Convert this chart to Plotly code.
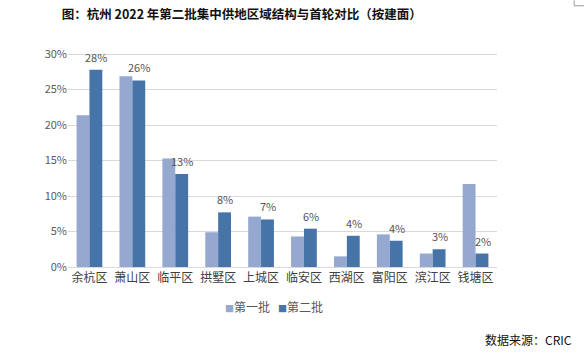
import plotly.graph_objects as go

categories = ["余杭区", "萧山区", "临平区", "拱墅区", "上城区", "临安区", "西湖区", "富阳区", "滨江区", "钱塘区"]
batch1 = [21.4, 26.9, 15.3, 4.9, 7.1, 4.3, 1.5, 4.6, 1.9, 11.7]
batch2 = [27.8, 26.3, 13.1, 7.7, 6.7, 5.4, 4.4, 3.7, 2.5, 1.9]
labels2 = ["28%", "26%", "13%", "8%", "7%", "6%", "4%", "4%", "3%", "2%"]
series_names = ["第一批", "第二批"]
y_ticks = [0, 5, 10, 15, 20, 25, 30]
y_tick_text = ["0%", "5%", "10%", "15%", "20%", "25%", "30%"]

font_family = "Noto Sans CJK SC, Noto Sans, sans-serif"
c1 = "#95A9D0"
c2 = "#4674A8"

fig = go.Figure()
fig.add_trace(go.Bar(
    x=categories, y=batch1, name=series_names[0], showlegend=False,
    marker=dict(color=c1, line=dict(width=0)),
))
fig.add_trace(go.Bar(
    x=categories, y=batch2, name=series_names[1], showlegend=False,
    marker=dict(color=c2, line=dict(width=0)),
))

annotations = []
for cat, val, lab in zip(categories, batch2, labels2):
    annotations.append(dict(
        x=cat, y=val, xref="x", yref="y", text=lab, showarrow=False,
        xshift=7, yshift=13, xanchor="center", yanchor="middle",
        font=dict(size=11, color="#555555", family=font_family),
    ))
# legend-like line
legend_text = (
    f"<span style='color:{c1};font-size:9px'>■</span>{series_names[0]}"
    f"&nbsp;&nbsp;&nbsp;"
    f"<span style='color:{c2};font-size:9px'>■</span>{series_names[1]}"
)
annotations.append(dict(
    text=legend_text, xref="paper", yref="paper",
    x=0.48, xanchor="center", y=-0.186, yanchor="middle",
    showarrow=False, font=dict(size=12, color="#595959", family=font_family),
))
annotations.append(dict(
    text="数据来源：CRIC", xref="paper", yref="paper",
    x=1.18, xanchor="right", y=-0.335, yanchor="middle",
    showarrow=False, font=dict(size=12, color="#111111", family=font_family),
))

fig.update_layout(
    width=584, height=356,
    margin=dict(l=68, r=87, t=52, b=89, autoexpand=False),
    paper_bgcolor="white", plot_bgcolor="white",
    barmode="group", bargap=0.4, bargroupgap=0,
    showlegend=False,
    font=dict(family=font_family, size=11, color="#595959"),
    title=dict(
        text="<b>图：杭州 2022 年第二批集中供地区域结构与首轮对比（按建面）</b>",
        x=0.414, xanchor="center", y=0.958, yanchor="middle",
        font=dict(size=12.5, color="#111111", family=font_family),
    ),
    xaxis=dict(
        showgrid=False, showline=True, linecolor="#D9D9D9", linewidth=1,
        ticks="", tickfont=dict(size=12, color="#404040"),
    ),
    yaxis=dict(
        range=[0, 30.3], tickvals=y_ticks, ticktext=y_tick_text,
        showgrid=True, gridcolor="#D9D9D9", gridwidth=1,
        zeroline=False, ticks="", showline=False,
        tickfont=dict(size=11, color="#595959"),
    ),
    annotations=annotations,
    shapes=[dict(
        type="path", xref="paper", yref="paper",
        path="M 1.18 1.24 L 1.18 1.215 L 1.21 1.215",
        line=dict(color="#999999", width=1),
    )],
)

fig.write_html(
    "out.html",
    config={"displayModeBar": False},
    post_script="document.body.style.margin='0px';",
)
